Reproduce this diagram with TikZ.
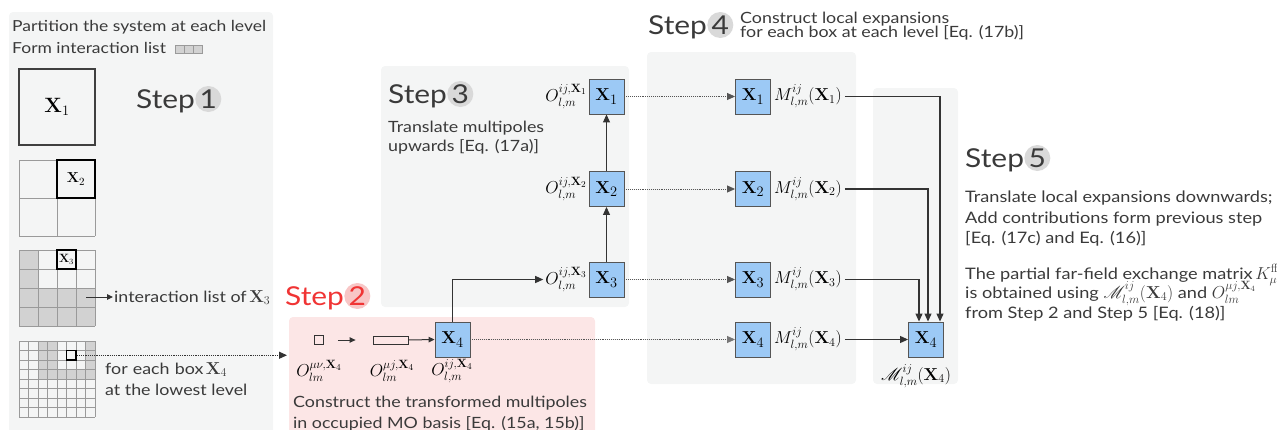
\documentclass[tikz,border=0pt]{standalone}
\usepackage{amsmath}
\usepackage{mathrsfs}
\usepackage[no-math]{fontspec}
\setmainfont{Lato}[FakeStretch=1.15]
\usetikzlibrary{arrows.meta}
\definecolor{panelc}{HTML}{F4F5F5}
\definecolor{pinkc}{HTML}{FCE6E6}
\definecolor{circg}{HTML}{D9D9D9}
\definecolor{circp}{HTML}{F8C6C6}
\definecolor{redc}{HTML}{F03434}
\definecolor{bluec}{HTML}{9CC9F5}
\definecolor{edgec}{HTML}{555555}
\definecolor{txtc}{HTML}{3A3A3A}
\definecolor{linec}{HTML}{333333}
\definecolor{gridc}{HTML}{9A9A9A}
\definecolor{shadec}{HTML}{D2D2D2}
\definecolor{tipg}{HTML}{777777}
\newcommand{\lgmath}[1]{{\fontsize{17}{17}\selectfont$#1$}}
\tikzset{
  panel/.style={fill=panelc, rounded corners=4pt},
  bbox/.style={draw=edgec, fill=bluec, minimum size=35pt, inner sep=0pt, line width=0.9pt, font=\fontsize{19}{19}\selectfont},
  steptxt/.style={font=\fontsize{26}{26}\selectfont, text=txtc, inner sep=0pt, anchor=base west},
  stepcirc/.style={circle, fill=circg, minimum size=26pt, inner sep=0pt, font=\fontsize{26}{26}\selectfont, text=txtc, anchor=west},
  body/.style={font=\fontsize{15.5}{15.5}\selectfont, text=txtc, inner sep=0pt, anchor=base west},
  bodys/.style={body, font=\fontsize{15.2}{15.2}\selectfont},
  bodyf/.style={body, font=\fontsize{15.8}{15.8}\selectfont},
  mlab/.style={font=\fontsize{17.5}{17.5}\selectfont, text=black, inner sep=0pt},
  arr/.style={-{Triangle[length=8pt,width=7pt]}, line width=1.1pt, draw=linec},
  sarr/.style={-{Triangle[length=6pt,width=5.5pt]}, line width=1pt, draw=linec},
  dotarr/.style={densely dotted, line width=0.9pt, draw=edgec, -{Triangle[length=8pt,width=7pt]}},
  gline/.style={draw=gridc, line width=0.7pt},
  hcell/.style={draw=black, line width=1.1pt, inner sep=0pt},
}
\begin{document}
\begin{tikzpicture}[x=1pt,y=-1pt]
\useasboundingbox (0,0) rectangle (1277,429);
% panels
\fill[panel] (9,12) rectangle (273,445);
\fill[pinkc, rounded corners=4pt] (289,317) rectangle (595,445);
\fill[panel] (381,66) rectangle (629,307);
\fill[panel] (647,52) rectangle (856,384);
\fill[panel] (873,88) rectangle (958,384);

% ---------- Step 1 ----------
\node[bodys] (p1) at (12,31) {Partition the system at each level};
\node[bodys] (p2) at (12,53) {Form interaction list};
\foreach \i in {0,1,2} \filldraw[fill=shadec, draw=gridc, line width=0.6pt] (175+\i*9,45) rectangle ++(9,8);
\node[steptxt] (st1) at (136,108) {Step};
\node[stepcirc] (sc1) at ([yshift=9pt]st1.base east) {1};

% level 1
\node[draw=black!75, line width=1.1pt, minimum size=76pt, inner sep=0pt, font=\fontsize{19.5}{19.5}\selectfont] (g1) at (57,107) {$\mathbf{X}_1$};
% level 2
\foreach \i in {0,1,2} {
  \draw[gline] (19+\i*38,160) -- (19+\i*38,236);
  \draw[gline] (19,160+\i*38) -- (95,160+\i*38);
}
\node[hcell, minimum size=38pt, font=\fontsize{15.5}{15.5}\selectfont] (c2) at (76,179) {$\mathbf{X}_2$};
% level 3
\foreach \c/\r in {0/0,0/1,0/2,1/2,2/2,3/2,0/3,1/3,2/3,3/3}
  \fill[shadec] (19+\c*19,250+\r*19) rectangle ++(19,19);
\foreach \i in {0,...,4} {
  \draw[gline] (19+\i*19,250) -- (19+\i*19,326);
  \draw[gline] (19,250+\i*19) -- (95,250+\i*19);
}
\node[hcell, minimum size=19pt, font=\fontsize{11.5}{11.5}\selectfont] (c3) at (66.5,259.5) {$\mathbf{X}_3$};
\coordinate (ia) at (86,297);
\node[body] (il) at (114,302) {interaction list of\,\lgmath{\mathbf{X}_3}};
\draw[sarr] (ia) -- ([xshift=-1pt]il.west |- ia);
% level 4
\foreach \c/\r in {2/0,3/0,2/1,3/1,2/2,3/2,2/3,3/3,7/0,7/1,7/2,7/3,4/3,5/3,6/3}
  \fill[shadec] (19+\c*9.5,341+\r*9.5) rectangle ++(9.5,9.5);
\foreach \i in {0,...,8} {
  \draw[gline, line width=0.6pt] (19+\i*9.5,341) -- (19+\i*9.5,417);
  \draw[gline, line width=0.6pt] (19,341+\i*9.5) -- (95,341+\i*9.5);
}
\node[hcell, minimum size=9.5pt] (c4) at (71.25,355.25) {};
\coordinate (d4) at (287,355.25);
\draw[dotarr, line width=1.2pt, draw=linec] (c4.east) -- (d4);
\node[body] (fe1) at (105,374) {for\,\,each\,\,box\,\lgmath{\mathbf{X}_4}};
\node[body] (fe2) at (105,395) {at the lowest level};

% ---------- Step 2 ----------
\node[steptxt, text=redc] (st2) at (285,305) {Step};
\node[stepcirc, fill=circp, text=redc] (sc2) at ([yshift=9pt]st2.base east) {2};
\node[draw=black!80, line width=0.8pt, minimum width=9pt, minimum height=9pt, inner sep=0pt] (sq) at (319,340) {};
\node[draw=black!80, line width=0.8pt, minimum width=35pt, minimum height=8pt, inner sep=0pt] (rc) at (390.5,340) {};
\node[bbox] (a4) at (452.5,339.5) {$\mathbf{X}_4$};
\draw[sarr] ([xshift=14pt]sq.east) -- ([xshift=-17pt]rc.west);
\draw[sarr] (rc.east) -- (a4.west);
\node[mlab] (o1) at (319,371) {$O_{lm}^{\mu\nu,\mathbf{X}_4}$};
\node[mlab] (o2) at (392,371) {$O_{lm}^{\mu j,\mathbf{X}_4}$};
\node[mlab] (o3) at (452,371) {$O_{l,m}^{ij,\mathbf{X}_4}$};
\node[body] (t2a) at (293,407) {Construct the transformed multipoles};
\node[body] (t2b) at (293,428) {in occupied MO basis [Eq. (15a, 15b)]};

% ---------- Step 3 ----------
\node[steptxt] (st3) at (388,103) {Step};
\node[stepcirc] (sc3) at ([yshift=9pt]st3.base east) {3};
\node[body] (t3a) at (388,132) {Translate multipoles};
\node[body] (t3b) at (388,151) {upwards [Eq. (17a)]};
\node[bbox] (b1) at (606.5,96.5) {$\mathbf{X}_1$};
\node[bbox] (b2) at (606.5,189) {$\mathbf{X}_2$};
\node[bbox] (b3) at (606.5,279.5) {$\mathbf{X}_3$};
\node[mlab, anchor=east] (ob1) at (587,96.5) {$O_{l,m}^{ij,\mathbf{X}_1}$};
\node[mlab, anchor=east] (ob2) at (587,189) {$O_{l,m}^{ij,\mathbf{X}_2}$};
\node[mlab, anchor=east] (ob3) at (587,279.5) {$O_{l,m}^{ij,\mathbf{X}_3}$};
\draw[arr] (b3.north) -- (b2.south);
\draw[arr] (b2.north) -- (b1.south);
\draw[arr] (a4.north) |- ([xshift=-2pt]ob3.west);

% ---------- Step 4 ----------
\node[steptxt] (st4) at (648,34) {Step};
\node[stepcirc] (sc4) at ([yshift=9pt]st4.base east) {4};
\node[body] (t4a) at (740,23) {Construct local expansions};
\node[body] (t4b) at (740,37) {for each box at each level [Eq. (17b)]};
\node[bbox] (e1) at (753,96.5) {$\mathbf{X}_1$};
\node[bbox] (e2) at (753,189) {$\mathbf{X}_2$};
\node[bbox] (e3) at (753,279.5) {$\mathbf{X}_3$};
\node[bbox] (e4) at (753,339.5) {$\mathbf{X}_4$};
\node[mlab, anchor=west] (m1) at (774,96.5) {$M_{l,m}^{ij}(\mathbf{X}_1)$};
\node[mlab, anchor=west] (m2) at (774,189) {$M_{l,m}^{ij}(\mathbf{X}_2)$};
\node[mlab, anchor=west] (m3) at (774,279.5) {$M_{l,m}^{ij}(\mathbf{X}_3)$};
\node[mlab, anchor=west] (m4) at (774,339.5) {$M_{l,m}^{ij}(\mathbf{X}_4)$};
\draw[dotarr] (b1.east) -- (e1.west);
\draw[dotarr] (b2.east) -- (e2.west);
\draw[dotarr] (b3.east) -- (e3.west);
\draw[dotarr, -{Triangle[length=8pt,width=7pt,color=tipg]}] (a4.east) -- (e4.west);

% ---------- Step 5 ----------
\node[bbox] (fx) at (926,339.5) {$\mathbf{X}_4$};
\node[mlab] (mf) at (916,376) {$\mathscr{M}_{l,m}^{ij}(\mathbf{X}_4)$};
\draw[arr] ([xshift=3pt]m1.east) -| ([xshift=14pt]fx.north);
\draw[arr] ([xshift=3pt]m2.east) -| ([xshift=2pt]fx.north);
\draw[arr] ([xshift=3pt]m3.east) -| ([xshift=-7pt]fx.north);
\draw[arr] ([xshift=3pt]m4.east) -- (fx.west);
\node[steptxt] (st5) at (965,167) {Step};
\node[stepcirc] (sc5) at ([yshift=9pt]st5.base east) {5};
\node[bodyf] (t5a) at (965,202) {Translate local expansions downwards;};
\node[bodyf] (t5b) at (965,223) {Add contributions form previous step};
\node[bodyf] (t5c) at (965,243) {[Eq. (17c) and Eq. (16)]};
\node[bodyf] (t5d) at (965,279) {The partial far-field exchange matrix\,\lgmath{K^{\mathrm{ff}}_{\mu i}}};
\node[bodyf] (t5e) at (965,298) {is obtained using \lgmath{\mathscr{M}_{l,m}^{ij}(\mathbf{X}_4)} and \lgmath{O_{lm}^{\mu j,\mathbf{X}_4}}};
\node[bodyf] (t5f) at (965,318) {from Step 2 and Step 5 [Eq. (18)]};
\end{tikzpicture}
\end{document}
